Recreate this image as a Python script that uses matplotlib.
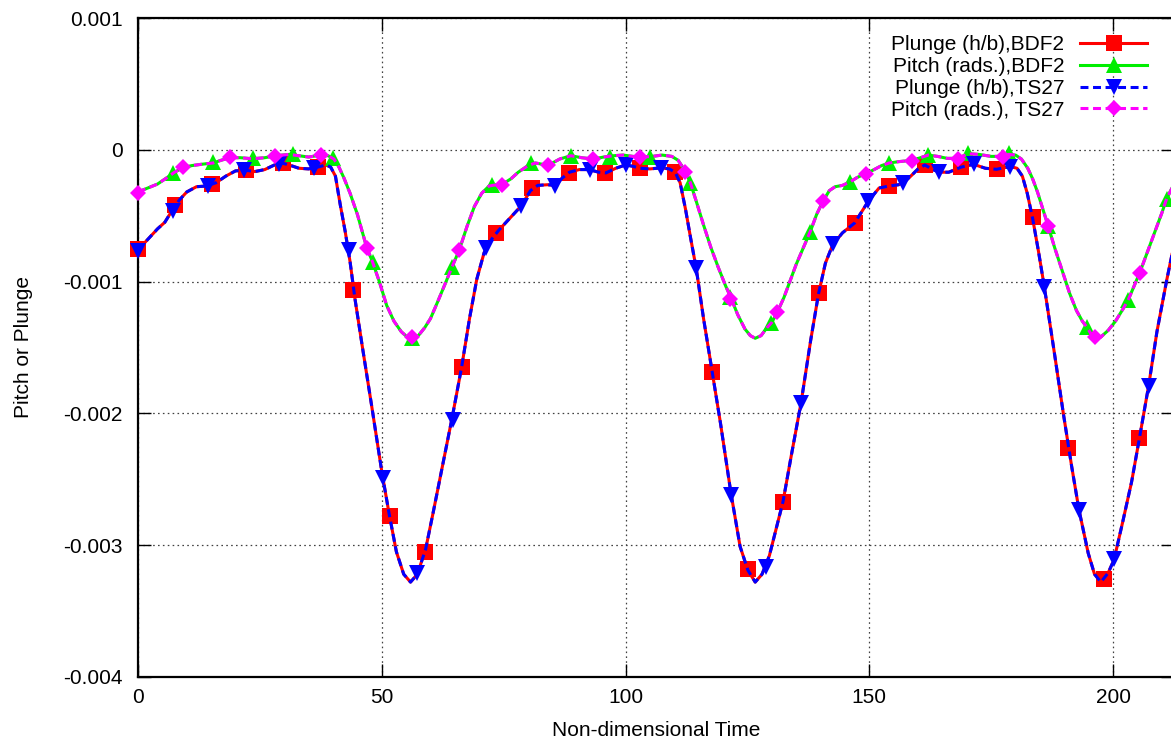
import numpy as np
import matplotlib
matplotlib.use("Agg")
import matplotlib.pyplot as plt
from matplotlib.lines import Line2D

plt.rcParams["font.family"] = ["Liberation Sans", "DejaVu Sans"]
plt.rcParams["axes.unicode_minus"] = False

# smooth response curves (values in units of 1e-3)
t_plunge = [0.0, 2.0, 4.0, 5.5, 7.0, 8.5, 10.0, 12.0, 14.0, 16.0, 18.0, 20.0, 22.0, 24.0,
            26.0, 28.0, 29.5, 31.0, 33.0, 35.0, 37.0, 38.5, 39.5, 40.5, 41.5, 42.5, 43.5,
            44.5, 46.0, 48.0, 50.0, 51.5, 53.0, 54.5, 55.9, 57.3, 59.0, 60.5, 62.5, 64.5,
            66.4, 68.0, 69.5, 71.0, 72.5, 74.0, 76.0, 78.5, 80.5, 82.0, 84.0, 85.6, 87.0,
            88.5, 90.5, 92.5, 94.5, 96.0, 98.0, 100.0, 101.5, 103.0, 105.0, 107.3, 109.0,
            110.2, 111.2, 112.3, 113.4, 114.5, 116.0, 117.8, 119.5, 121.6, 123.5, 125.1,
            126.6, 128.0, 129.5, 131.0, 132.3, 134.0, 136.0, 138.0, 139.6, 141.0, 142.5,
            144.5, 147.0, 149.8, 152.0, 154.0, 156.0, 157.0, 158.5, 160.0, 161.4, 163.0,
            164.5, 166.3, 168.8, 171.4, 173.8, 176.1, 178.9, 180.3, 181.4, 182.4, 183.5,
            184.7, 185.9, 188.0, 189.8, 191.5, 193.0, 194.9, 196.2, 197.5, 199.0, 200.2,
            202.0, 203.8, 205.4, 207.3, 209.0, 211.0, 212.5]
plunge = [-0.76, -0.68, -0.60, -0.55, -0.46, -0.38, -0.32, -0.28, -0.275, -0.25, -0.20,
          -0.16, -0.155, -0.165, -0.15, -0.115, -0.10, -0.115, -0.14, -0.145, -0.13,
          -0.115, -0.13, -0.20, -0.42, -0.62, -0.85, -1.13, -1.49, -1.96, -2.44, -2.76,
          -3.05, -3.22, -3.28, -3.22, -3.03, -2.76, -2.39, -2.02, -1.645, -1.28, -0.98,
          -0.78, -0.68, -0.61, -0.53, -0.43, -0.31, -0.27, -0.265, -0.27, -0.215, -0.17,
          -0.15, -0.15, -0.17, -0.175, -0.14, -0.115, -0.125, -0.14, -0.145, -0.137,
          -0.145, -0.172, -0.25, -0.45, -0.68, -0.90, -1.28, -1.69, -2.08, -2.60, -3.01,
          -3.19, -3.28, -3.22, -3.08, -2.86, -2.67, -2.32, -1.92, -1.44, -1.09, -0.86,
          -0.72, -0.63, -0.555, -0.39, -0.29, -0.275, -0.265, -0.25, -0.20, -0.145, -0.115,
          -0.15, -0.17, -0.17, -0.132, -0.11, -0.14, -0.148, -0.127, -0.14, -0.20, -0.33,
          -0.52, -0.77, -1.04, -1.55, -2.00, -2.40, -2.73, -3.06, -3.22, -3.28, -3.21,
          -3.11, -2.82, -2.52, -2.19, -1.79, -1.38, -0.99, -0.72]

t_pitch = [0.0, 2.0, 4.0, 6.0, 7.5, 9.3, 11.0, 13.0, 15.4, 17.0, 18.8, 21.0, 23.5, 26.0,
           28.2, 31.0, 33.0, 35.0, 37.5, 39.0, 40.2, 41.2, 42.2, 43.5, 45.0, 46.9, 48.1,
           49.5, 51.0, 52.5, 54.0, 55.2, 56.3, 57.5, 58.8, 60.0, 61.5, 63.3, 64.4, 65.9,
           67.5, 69.0, 70.5, 72.0, 73.5, 75.0, 76.5, 78.0, 80.0, 81.5, 83.0, 84.5, 86.5,
           88.8, 91.0, 93.4, 95.5, 97.5, 99.5, 101.5, 103.5, 105.5, 107.5, 109.5, 110.8,
           112.3, 113.3, 114.5, 116.0, 117.5, 119.0, 120.5, 121.7, 123.0, 124.5, 125.6,
           126.6, 127.8, 129.0, 130.0, 131.1, 132.5, 133.8, 135.0, 136.5, 137.9, 139.2,
           140.5, 141.8, 143.0, 144.5, 146.0, 147.5, 149.3, 151.0, 152.5, 154.1, 156.0,
           158.7, 160.5, 162.1, 164.0, 166.0, 168.1, 170.3, 172.5, 175.0, 177.5, 178.6,
           180.0, 181.2, 182.5, 183.5, 184.5, 185.6, 186.7, 188.0, 189.5, 191.1, 192.5,
           193.7, 194.7, 195.7, 196.5, 197.5, 199.0, 200.5, 202.0, 203.1, 204.8, 205.5,
           207.0, 208.5, 210.0, 211.0, 212.5]
pitch = [-0.32, -0.29, -0.26, -0.21, -0.17, -0.135, -0.12, -0.11, -0.10, -0.08, -0.06,
         -0.06, -0.068, -0.06, -0.045, -0.035, -0.045, -0.055, -0.04, -0.045, -0.07,
         -0.13, -0.21, -0.33, -0.49, -0.74, -0.85, -1.00, -1.18, -1.30, -1.38, -1.42,
         -1.43, -1.41, -1.35, -1.28, -1.15, -0.99, -0.89, -0.76, -0.58, -0.43, -0.33,
         -0.275, -0.265, -0.255, -0.22, -0.17, -0.12, -0.10, -0.11, -0.11, -0.07, -0.045,
         -0.06, -0.07, -0.055, -0.045, -0.04, -0.05, -0.055, -0.05, -0.04, -0.05, -0.08,
         -0.165, -0.25, -0.39, -0.57, -0.74, -0.89, -1.03, -1.13, -1.25, -1.36, -1.41,
         -1.43, -1.41, -1.35, -1.31, -1.235, -1.12, -0.99, -0.87, -0.74, -0.62, -0.49,
         -0.39, -0.31, -0.28, -0.27, -0.245, -0.21, -0.18, -0.15, -0.12, -0.10, -0.09,
         -0.08, -0.06, -0.04, -0.05, -0.065, -0.065, -0.03, -0.035, -0.05, -0.05, -0.035,
         -0.04, -0.07, -0.14, -0.22, -0.32, -0.45, -0.58, -0.74, -0.91, -1.09, -1.22,
         -1.30, -1.35, -1.41, -1.43, -1.42, -1.37, -1.30, -1.21, -1.14, -0.99, -0.93,
         -0.78, -0.63, -0.48, -0.37, -0.26]

# marker points of each series
t_plunge_bdf2 = [0.0, 7.6, 15.1, 22.2, 29.7, 37.0, 44.2, 51.6, 58.9, 66.4, 73.5, 80.9,
                 88.4, 95.7, 102.9, 110.2, 117.8, 125.1, 132.3, 139.6, 147.0, 154.1,
                 161.4, 168.8, 176.1, 183.5, 190.8, 198.2, 205.4]
plunge_bdf2 = [-0.754, -0.418, -0.26, -0.157, -0.101, -0.127, -1.063, -2.779, -3.05,
               -1.645, -0.633, -0.291, -0.177, -0.177, -0.139, -0.172, -1.688, -3.184,
               -2.675, -1.088, -0.557, -0.278, -0.114, -0.132, -0.147, -0.511, -2.265,
               -3.26, -2.189]
t_pitch_bdf2 = [7.2, 15.4, 23.5, 31.7, 40.1, 48.1, 56.2, 64.4, 72.6, 80.7, 88.8, 96.9,
                105.1, 113.3, 121.4, 129.9, 137.9, 146.0, 154.1, 162.1, 170.3, 178.6,
                186.7, 194.7, 203.1, 211.0]
pitch_bdf2 = [-0.177, -0.096, -0.063, -0.033, -0.063, -0.848, -1.43, -0.886, -0.266,
              -0.101, -0.046, -0.051, -0.056, -0.253, -1.12, -1.316, -0.62, -0.248,
              -0.101, -0.038, -0.025, -0.025, -0.58, -1.342, -1.139, -0.374]
t_plunge_ts27 = [0.0, 7.1, 14.3, 21.7, 28.9, 36.0, 43.2, 50.2, 57.3, 64.6, 71.3, 78.5,
                 85.6, 92.8, 100.0, 107.3, 114.5, 121.6, 128.9, 136.0, 142.5, 149.8,
                 157.0, 164.2, 171.4, 178.9, 185.9, 193.0, 200.2, 207.3]
plunge_ts27 = [-0.77, -0.468, -0.278, -0.152, -0.109, -0.139, -0.764, -2.493, -3.214,
               -2.05, -0.747, -0.43, -0.273, -0.152, -0.114, -0.139, -0.898, -2.62,
               -3.169, -1.924, -0.714, -0.392, -0.253, -0.165, -0.109, -0.127, -1.038,
               -2.733, -3.108, -1.792]
t_pitch_ts27 = [0.0, 9.3, 18.8, 28.2, 37.5, 46.9, 56.3, 65.9, 74.6, 84.0, 93.4, 102.9,
                112.3, 121.5, 131.1, 140.5, 149.3, 158.7, 168.1, 177.5, 186.7, 196.3, 205.5]
pitch_ts27 = [-0.324, -0.134, -0.058, -0.046, -0.038, -0.747, -1.422, -0.759, -0.266,
              -0.119, -0.071, -0.056, -0.165, -1.134, -1.233, -0.392, -0.182, -0.084,
              -0.068, -0.056, -0.577, -1.418, -0.931]

labels = ["Plunge (h/b),BDF2", "Pitch (rads.),BDF2", "Plunge (h/b),TS27", "Pitch (rads.), TS27"]
x_ticks = [0, 50, 100, 150, 200]
y_ticks = [0.001, 0.0, -0.001, -0.002, -0.003, -0.004]
y_ticklabels = ["0.001", "0", "-0.001", "-0.002", "-0.003", "-0.004"]

S = 1e-3
RED, GREEN, BLUE, MAGENTA = "#ff0000", "#00ee00", "#0000ff", "#ff00ff"
LW = 2.2
DASH = (2.6, 1.5)

fig = plt.figure(figsize=(11.71, 7.46), dpi=100)
ax = fig.add_axes([138 / 1171, 69 / 746, 1036 / 1171, 659 / 746])

styles = [
    (t_plunge, plunge, t_plunge_bdf2, plunge_bdf2, RED, "-", "s", 11.2),
    (t_pitch, pitch, t_pitch_bdf2, pitch_bdf2, GREEN, "-", "^", 12),
    (t_plunge, plunge, t_plunge_ts27, plunge_ts27, BLUE, "--", "v", 12),
    (t_pitch, pitch, t_pitch_ts27, pitch_ts27, MAGENTA, "--", "D", 8.4),
]
handles = []
z = 3
for tl, yl, tm, ym, c, ls, mk, ms in styles:
    line, = ax.plot(tl, np.array(yl) * S, color=c, lw=LW, ls=ls, zorder=z)
    if ls == "--":
        line.set_dashes(DASH)
    ax.plot(tm, np.array(ym) * S, ls="none", marker=mk, ms=ms, color=c,
            markeredgewidth=0, zorder=z + 0.5, clip_on=False)
    h = Line2D([], [], color=c, lw=LW, ls=ls, marker=mk, ms=ms, markeredgewidth=0)
    if ls == "--":
        h.set_dashes(DASH)
    handles.append(h)
    z += 1

ax.set_xlim(0, 212.5)
ax.set_ylim(-0.004, 0.001)
ax.set_xticks(x_ticks)
ax.set_yticks(y_ticks)
ax.set_yticklabels(y_ticklabels)
ax.tick_params(direction="in", length=9.5, width=1.0, top=True, right=True,
               labelsize=15)
ax.tick_params(axis="x", pad=8)
ax.tick_params(axis="y", pad=11)
for sp in ax.spines.values():
    sp.set_linewidth(1.6)
ax.grid(True, color="0.25", lw=0.9, ls=(0, (1.3, 2.6)))
ax.set_axisbelow(True)

ax.set_xlabel("Non-dimensional Time", fontsize=15, labelpad=10)
ax.set_ylabel("Pitch or Plunge", fontsize=15, labelpad=22)

leg = ax.legend(handles, labels, loc="upper right",
                bbox_to_anchor=(1147 / 1171, 1 - 35 / 746),
                bbox_transform=fig.transFigure, frameon=False, markerfirst=False,
                handlelength=3.2, handletextpad=0.77, labelspacing=0.14,
                borderpad=0, borderaxespad=0, fontsize=15, numpoints=1)

fig.savefig("out.png", dpi=100)
